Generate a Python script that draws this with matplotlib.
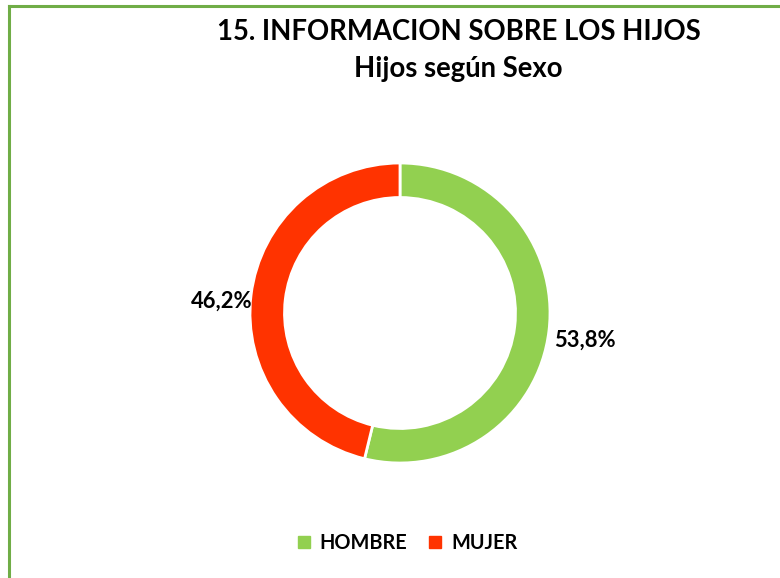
import matplotlib.pyplot as plt
from matplotlib.lines import Line2D

# datos
categorias = ['HOMBRE', 'MUJER']
porcentajes = [53.8, 46.2]
colores = ['#92D050', '#FF3300']
etiquetas = ['53,8%', '46,2%']

plt.rcParams['font.family'] = ['Lato', 'DejaVu Sans']

fig = plt.figure(figsize=(7.8, 5.78), dpi=100)

# borde verde (solo visible arriba e izquierda)
fig.add_artist(Line2D([0.011, 1.0], [0.990, 0.990], color='#70AD47', lw=2.2))
fig.add_artist(Line2D([0.011, 0.011], [0.0, 0.990], color='#70AD47', lw=2.2))

fig.text(0.588, 0.945, '15. INFORMACION SOBRE LOS HIJOS', ha='center', va='center',
         fontsize=19.8, fontweight='bold')
fig.text(0.588, 0.880, 'Hijos según Sexo', ha='center', va='center',
         fontsize=19.8, fontweight='bold')

# ejes del anillo: centro (400, 313), radio 150 px
r = 150
ax = fig.add_axes([(400 - r) / 780, (578 - 313 - r) / 578, 2 * r / 780, 2 * r / 578])
wedges, _ = ax.pie(porcentajes, colors=colores, startangle=90, counterclock=False,
                   radius=1.0, wedgeprops=dict(width=0.23, edgecolor='white', linewidth=2))
ax.set_aspect('equal')
ax.set_xlim(-1, 1)
ax.set_ylim(-1, 1)

ax.text(1.23, -0.18, etiquetas[0], ha='center', va='center', fontsize=15.8, fontweight='bold')
ax.text(-1.19, 0.08, etiquetas[1], ha='center', va='center', fontsize=15.8, fontweight='bold')

handles = [plt.Line2D([], [], marker='s', ls='', color=c, markersize=8) for c in colores]
fig.legend(handles, categorias, loc='center', bbox_to_anchor=(0.52, 0.06), ncol=2,
           frameon=False, prop=dict(size=14.3, weight='bold'), handletextpad=0.3,
           columnspacing=0.9, handlelength=1.0)

fig.savefig('out.png', dpi=100)
